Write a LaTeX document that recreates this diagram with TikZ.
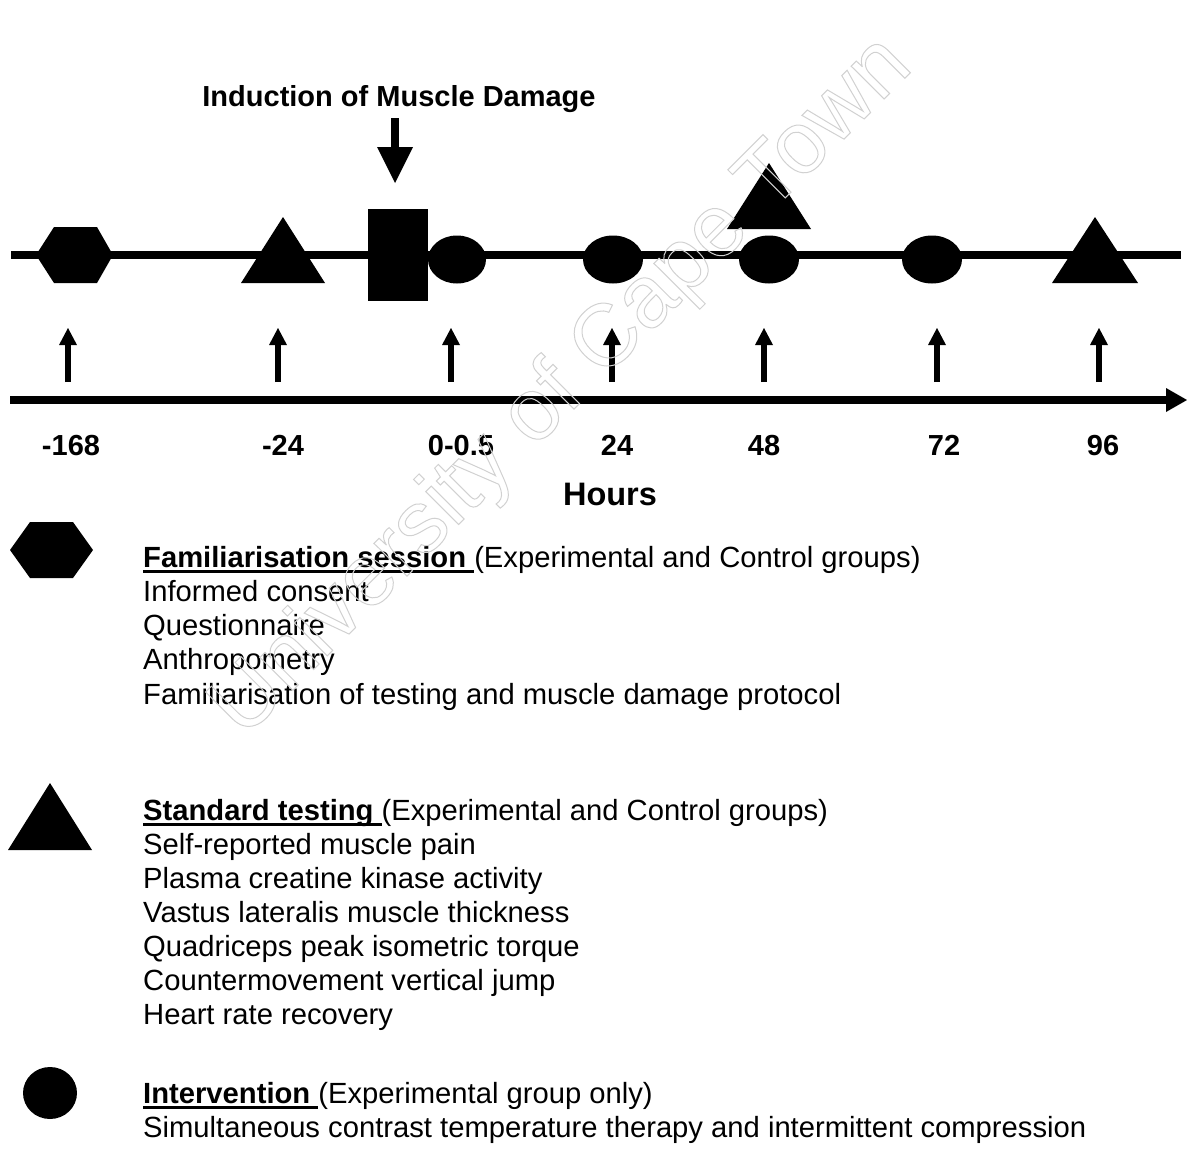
\documentclass[tikz,border=0pt]{standalone}
\usepackage{fontspec}
\setmainfont{Liberation Sans}
\usetikzlibrary{arrows.meta}
\newcommand\myul[1]{\setbox0\hbox{#1}\rlap{\rule[-5.5pt]{\wd0}{3pt}}\box0}
\begin{document}
\begin{tikzpicture}[x=1pt,y=-1pt,
  shp/.style={fill=black,draw=none},
  txt/.style={inner sep=0pt,anchor=base west,font=\fontsize{29.2}{34}\selectfont},
  lbl/.style={inner sep=0pt,anchor=base,font=\fontsize{29}{34}\selectfont\bfseries},
  uparrow/.style={line width=5.5pt,-{Triangle[width=18pt,length=17pt,line width=0pt]}},
  downarrow/.style={line width=8pt,-{Triangle[width=36pt,length=36pt,line width=0pt]}},
  axis/.style={line width=7.5pt,-{Triangle[width=24pt,length=21pt,line width=0pt]}},
  tline/.style={line width=8pt}
]
\useasboundingbox (0,0) rectangle (1187,1165);

% title and induction arrow
\node[lbl] (title) at (399,106) {Induction of Muscle Damage};
\coordinate (dA) at (395,118);
\coordinate (dB) at (395,183);
\draw[downarrow] (dA) -- (dB);

% upper timeline
\coordinate (tl0) at (11,255);
\coordinate (tl1) at (1181,255);
\draw[tline] (tl0) -- (tl1);

% shapes on timeline
\fill[shp] (36,255) -- (54,227) -- (97,227) -- (113,255) -- (97,283) -- (54,283) -- cycle;
\fill[shp] (241,283) -- (283,217) -- (325,283) -- cycle;
\fill[shp] (368,209) rectangle (428,301);
\fill[shp] (457,259.5) ellipse [x radius=29, y radius=24];
\fill[shp] (613,259.5) ellipse [x radius=30, y radius=24];
\fill[shp] (769,259.5) ellipse [x radius=30, y radius=24];
\fill[shp] (932,259.5) ellipse [x radius=30, y radius=24];
\fill[shp] (727,229) -- (769,163) -- (811,229) -- cycle;
\fill[shp] (1052,283) -- (1095,217) -- (1138,283) -- cycle;

% up arrows
\foreach \i/\xx in {1/68,2/278,3/451,4/612,5/764,6/937,7/1099}{
  \coordinate (ub\i) at (\xx,382);
  \coordinate (ut\i) at (\xx,328);
  \draw[uparrow] (ub\i) -- (ut\i);
}

% axis
\coordinate (ax0) at (10,400);
\coordinate (ax1) at (1187,400);
\draw[axis] (ax0) -- (ax1);

% labels
\node[lbl] (l1) at (71,455) {-168};
\node[lbl] (l2) at (283,455) {-24};
\node[lbl] (l3) at (461,455) {0-0.5};
\node[lbl] (l4) at (617,455) {24};
\node[lbl] (l5) at (764,455) {48};
\node[lbl] (l6) at (944,455) {72};
\node[lbl] (l7) at (1103,455) {96};
\node[lbl,font=\fontsize{32.5}{36}\selectfont\bfseries] (hours) at (610,505) {Hours};

% legend: familiarisation
\fill[shp] (10,550) -- (30,522) -- (73,522) -- (93,550) -- (73,578) -- (30,578) -- cycle;
\node[txt] (f0) at (143,567) {\myul{\bfseries Familiarisation session }(Experimental and Control groups)};
\node[txt] (f1) at (143,601) {Informed consent};
\node[txt] (f2) at (143,635) {Questionnaire};
\node[txt] (f3) at (143,669) {Anthropometry};
\node[txt] (f4) at (143,704) {Familiarisation of testing and muscle damage protocol};

% legend: standard testing
\fill[shp] (8,850) -- (50,783) -- (92,850) -- cycle;
\node[txt] (s0) at (143,820) {\myul{\bfseries Standard testing }(Experimental and Control groups)};
\node[txt] (s1) at (143,854) {Self-reported muscle pain};
\node[txt] (s2) at (143,888) {Plasma creatine kinase activity};
\node[txt] (s3) at (143,922) {Vastus lateralis muscle thickness};
\node[txt] (s4) at (143,956) {Quadriceps peak isometric torque};
\node[txt] (s5) at (143,990) {Countermovement vertical jump};
\node[txt] (s6) at (143,1024) {Heart rate recovery};

% legend: intervention
\fill[shp] (50,1093) ellipse [x radius=27, y radius=26];
\node[txt] (i0) at (143,1103) {\myul{\bfseries Intervention }(Experimental group only)};
\node[txt] (i1) at (143,1137) {Simultaneous contrast temperature therapy and intermittent compression};

% watermark
\node[rotate=45,inner sep=0pt,font=\fontsize{88}{88}\selectfont,text=black!18] (wm) at (563,388)
  {\special{pdf:literal direct 1 Tr 1 w}University of Cape Town\special{pdf:literal direct 0 Tr}};
\end{tikzpicture}
\end{document}
